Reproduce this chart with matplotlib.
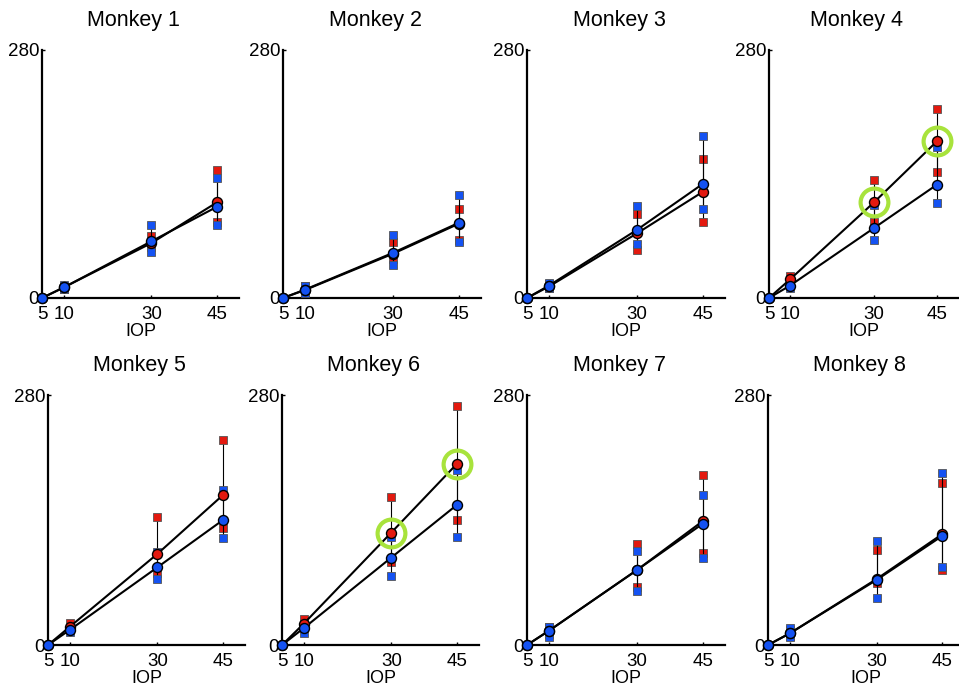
import matplotlib
matplotlib.use("Agg")
import matplotlib.pyplot as plt

plt.rcParams['font.family'] = ['Liberation Sans', 'DejaVu Sans']

# IOP levels (mmHg); the first level is the zero baseline
iop = [5, 10, 30, 45]
titles = ["Monkey 1", "Monkey 2", "Monkey 3", "Monkey 4",
          "Monkey 5", "Monkey 6", "Monkey 7", "Monkey 8"]

# mean response per monkey at IOP 5, 10, 30, 45
red_mean = [[0, 12, 62, 108], [0, 9, 50, 84], [0, 13, 73, 120], [0, 21, 108, 177],
            [0, 20.5, 102, 168], [0, 24, 126, 203], [0, 16, 84, 139], [0, 13, 74, 124]]
blue_mean = [[0, 12, 64, 103], [0, 9.5, 51, 85], [0, 14, 77, 129], [0, 14, 79, 128],
             [0, 17, 87, 140], [0, 19, 98, 157], [0, 16, 84, 136], [0, 13, 73, 122]]

# spread at IOP 10, 30, 45
red_low = [[10, 58, 86], [7, 44, 66], [11, 54, 86], [17, 86, 142],
           [18, 81, 131], [20, 93, 140], [12, 65, 103], [10, 70, 84]]
red_high = [[14, 70, 145], [13, 63, 101], [16, 95, 157], [25, 133, 213],
            [25, 143, 230], [29, 166, 268], [20, 113, 190], [17, 106, 181]]
blue_low = [[10, 52, 82], [6, 37, 63], [11, 61, 100], [11, 66, 107],
            [15, 74, 120], [14, 77, 121], [9, 60, 97], [9, 53, 87]]
blue_high = [[15, 82, 136], [14, 71, 116], [17, 104, 183], [17, 105, 170],
             [19, 104, 174], [22, 121, 196], [20, 105, 168], [19, 117, 193]]

# IOP levels whose red mean is ringed, per monkey index
ringed = {3: [30, 45], 5: [30, 45]}

RED = "#e3190f"
BLUE = "#1452f2"
GREEN = "#a8e33c"

W, H = 959, 686
fig = plt.figure(figsize=(W / 100, H / 100), dpi=100)

# pixel placement of each panel: x of IOP 5, x of IOP 45, y of 0, y of 280
frames = [(42, 217, 298, 50), (283, 459, 298, 50), (527, 703, 298, 50), (769, 937, 298, 50),
          (48, 223, 645, 395), (282, 457, 645, 395), (527, 703, 645, 395), (768, 942, 645, 395)]

for i, (x5, x45, y0, y280) in enumerate(frames):
    scale = (x45 - x5) / 40.0
    right = x5 + 45 * scale
    ax = fig.add_axes([x5 / W, (H - y0) / H, (right - x5) / W, (y0 - y280) / H])
    ax.set_xlim(5, 50)
    ax.set_ylim(0, 280)
    for s in ("top", "right"):
        ax.spines[s].set_visible(False)
    for s in ("left", "bottom"):
        ax.spines[s].set_linewidth(1.6)
    ax.set_xticks(iop)
    ax.set_xticklabels([str(v) for v in iop])
    ax.set_yticks([0, 280])
    ax.set_yticklabels(["0", "280"])
    ax.tick_params(direction="in", length=2.5, width=1, labelsize=13.5)
    ax.tick_params(axis="x", pad=5.5)
    ax.tick_params(axis="y", pad=2)
    ax.patch.set_alpha(0)

    xs = iop[1:]
    # spread bars and square markers
    ax.vlines(xs, red_low[i], red_high[i], color="black", lw=0.8, zorder=2)
    for v in (red_low[i], red_high[i]):
        ax.plot(xs, v, "s", ms=5.6, mfc=RED, mec="#555555", mew=0.6, zorder=2.5, clip_on=False)
    ax.vlines(xs, blue_low[i], blue_high[i], color="black", lw=0.8, zorder=2.6)
    for v in (blue_low[i], blue_high[i]):
        ax.plot(xs, v, "s", ms=5.6, mfc=BLUE, mec="#555555", mew=0.6, zorder=2.8, clip_on=False)

    # mean curves
    ax.plot(iop, red_mean[i], "-", color="black", lw=1.5, zorder=4, clip_on=False)
    ax.plot(iop, blue_mean[i], "-", color="black", lw=1.5, zorder=4.1, clip_on=False)
    ax.plot(iop, red_mean[i], "o", ms=7.2, mfc=RED, mec="black", mew=1, zorder=5, clip_on=False)
    ax.plot(iop, blue_mean[i], "o", ms=7.2, mfc=BLUE, mec="black", mew=1, zorder=6, clip_on=False)

    if i in ringed:
        rx = ringed[i]
        ry = [red_mean[i][iop.index(x)] for x in rx]
        ax.plot(rx, ry, "o", ms=20, mfc="none", mec=GREEN, mew=3, zorder=7, clip_on=False)

    ax.annotate(titles[i], xy=(0.465, 1), xycoords="axes fraction",
                xytext=(0, 21.5), textcoords="offset points",
                ha="center", va="center", fontsize=15.5)
    ax.annotate("IOP", xy=(0.5, 0), xycoords="axes fraction",
                xytext=(0, -24), textcoords="offset points",
                ha="center", va="center", fontsize=13)

fig.savefig("out.png", dpi=100)
